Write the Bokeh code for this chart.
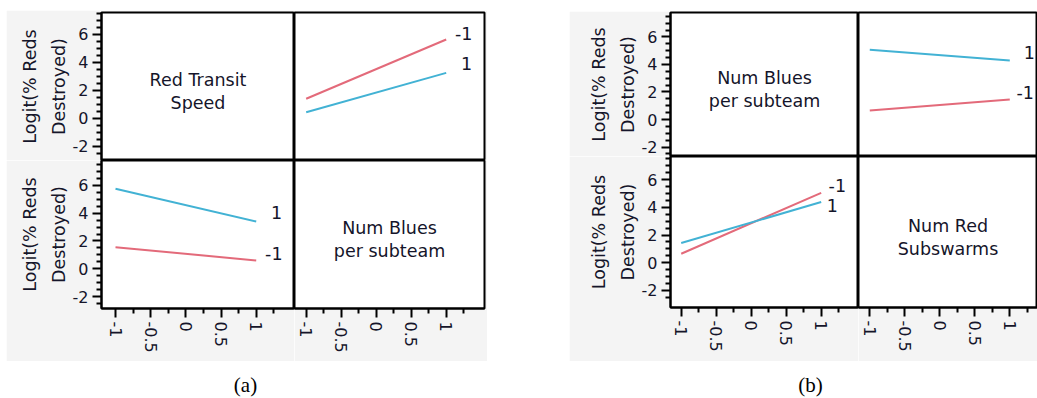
from bokeh.plotting import figure
from bokeh.layouts import row, column, Spacer
from bokeh.models import FixedTicker, Label, Range1d
from bokeh.core.properties import value
from bokeh.embed import file_html
from bokeh.resources import INLINE

# ---------------- data ----------------
x_levels = [-1, 1]
y_axis_title = "Logit(% Reds\nDestroyed)"
x_major = [-1, -0.5, 0, 0.5, 1]
x_major_text = ["-1", "-0.5", "0", "0.5", "1"]
x_minor = [-0.75, -0.25, 0.25, 0.75, 1.25]
y_major = [-2, 0, 2, 4, 6]
y_major_text = ["-2", "0", "2", "4", "6"]
y_minor = [-2.5, -1.5, -1, -0.5, 0.5, 1, 1.5, 2.5, 3, 3.5, 4.5, 5, 5.5, 6.5, 7, 7.5]

# panel (a)
a_diag = ["Red Transit\nSpeed", "Num Blues\nper subteam"]
a_tr_red = [1.41, 5.64]     # level -1
a_tr_blue = [0.45, 3.26]    # level 1
a_bl_red = [1.55, 0.60]
a_bl_blue = [5.76, 3.40]
# panel (b)
b_diag = ["Num Blues\nper subteam", "Num Red\nSubswarms"]
b_tr_red = [0.65, 1.45]
b_tr_blue = [5.07, 4.29]
b_bl_red = [0.65, 5.05]
b_bl_blue = [1.42, 4.38]

# line-end labels: (text, x, y)
a_tr_labels = (["-1", "1"], [1.25, 1.29], [6.07, 3.93])
a_bl_labels = (["1", "-1"], [1.29, 1.25], [4.07, 1.08])
b_tr_labels = (["1", "-1"], [1.28, 1.22], [4.89, 1.99])
b_bl_labels = (["-1", "1"], [1.23, 1.16], [5.58, 4.14])

captions = ["(a)", "(b)"]

# ---------------- style ----------------
GREY = "#f4f4f4"
RED = "#e36a7a"
BLUE = "#42b2d4"
TXT = "#15152a"
FONT = "DejaVu Sans"


def make_cell(fw, fh, xr, yr, left_axis, bottom_axis, bl, bt, br, bb):
    p = figure(frame_width=fw, frame_height=fh,
               x_range=Range1d(*xr), y_range=Range1d(*yr),
               x_axis_location="below" if bottom_axis else None,
               y_axis_location="left" if left_axis else None,
               output_backend="svg", toolbar_location=None,
               min_border_left=bl, min_border_right=br,
               min_border_top=bt, min_border_bottom=bb,
               background_fill_color="white", border_fill_color=GREY,
               outline_line_color="black", outline_line_width=2)
    p.xgrid.grid_line_color = None
    p.ygrid.grid_line_color = None
    if left_axis:
        ax = p.yaxis[0]
        ax.ticker = FixedTicker(ticks=y_major, minor_ticks=y_minor)
        ax.major_label_overrides = dict(zip(y_major, y_major_text))
        ax.axis_label = y_axis_title
        ax.axis_label_text_font = FONT
        ax.axis_label_text_font_size = "17.5px"
        ax.axis_label_text_font_style = "normal"
        ax.axis_label_text_color = TXT
        ax.axis_label_text_line_height = 1.45
        ax.axis_label_standoff = 1
    if bottom_axis:
        ax = p.xaxis[0]
        ax.ticker = FixedTicker(ticks=x_major, minor_ticks=x_minor)
        ax.major_label_overrides = dict(zip(x_major, x_major_text))
        ax.major_label_orientation = "vertical"
    for ax in list(p.xaxis) + list(p.yaxis):
        ax.axis_line_color = "black"
        ax.axis_line_width = 2
        ax.major_tick_out = 9
        ax.major_tick_in = 0
        ax.minor_tick_out = 5
        ax.minor_tick_in = 0
        ax.major_tick_line_color = "black"
        ax.major_tick_line_width = 2
        ax.minor_tick_line_color = "black"
        ax.minor_tick_line_width = 2
        ax.major_label_text_font = FONT
        ax.major_label_text_font_size = "16px"
        ax.major_label_text_color = TXT
        ax.major_label_standoff = 4
    return p


def add_lines(p, red, blue, labels):
    p.line(x_levels, red, line_color=RED, line_width=2)
    p.line(x_levels, blue, line_color=BLUE, line_width=2)
    txt, lx, ly = labels
    p.text(x=lx, y=ly, text=txt, text_align="center", text_baseline="middle",
           text_font=value(FONT), text_font_size=value("17.5px"), text_color=TXT)


def add_diag(p, name):
    xr, yr = p.x_range, p.y_range
    p.add_layout(Label(x=(xr.start + xr.end) / 2, y=(yr.start + yr.end) / 2,
                       text=name, text_align="center", text_baseline="middle",
                       y_offset=-5, text_font=FONT, text_font_size="17.5px",
                       text_color=TXT, text_line_height=1.15))


# ---------------- panel (a) ----------------
a_xl = (-1.199, 1.544)
a_xr = (-1.167, 1.547)
a_yt = (-3.0, 7.57)
a_yb = (-2.86, 7.79)

a_TL = make_cell(193, 148, a_xl, a_yt, True, False, 95, 2, 0, 0)
a_TR = make_cell(190, 148, a_xr, a_yt, False, False, 0, 2, 3, 0)
a_BL = make_cell(193, 148, a_xl, a_yb, True, True, 95, 0, 0, 53)
a_BR = make_cell(190, 148, a_xr, a_yb, False, True, 0, 0, 3, 53)
add_diag(a_TL, a_diag[0])
add_diag(a_BR, a_diag[1])
add_lines(a_TR, a_tr_red, a_tr_blue, a_tr_labels)
add_lines(a_BL, a_bl_red, a_bl_blue, a_bl_labels)

# ---------------- panel (b) ----------------
b_xl = (-1.153, 1.533)
b_xr = (-1.161, 1.396)
b_yt = (-2.69, 7.78)
b_yb = (-3.23, 7.67)

b_TL = make_cell(188, 144, b_xl, b_yt, True, False, 101, 1, 0, 0)
b_TR = make_cell(179, 144, b_xr, b_yt, False, False, 0, 1, 0, 0)
b_BL = make_cell(188, 151, b_xl, b_yb, True, True, 101, 0, 0, 54)
b_BR = make_cell(179, 151, b_xr, b_yb, False, True, 0, 0, 0, 54)
add_diag(b_TL, b_diag[0])
add_diag(b_BR, b_diag[1])
add_lines(b_TR, b_tr_red, b_tr_blue, b_tr_labels)
add_lines(b_BL, b_bl_red, b_bl_blue, b_bl_labels)

panelA = column(Spacer(width=481, height=10), row(a_TL, a_TR), row(a_BL, a_BR))
panelB = column(Spacer(width=468, height=11), row(b_TL, b_TR), row(b_BL, b_BR))

cap = figure(width=1037, height=37, x_range=Range1d(0, 1), y_range=Range1d(0, 1),
             x_axis_location=None, y_axis_location=None,
             output_backend="svg", toolbar_location=None, min_border=0,
             outline_line_color=None, background_fill_color="white",
             border_fill_color="white")
cap.xgrid.grid_line_color = None
cap.ygrid.grid_line_color = None
for txt, cx in zip(captions, [245, 810]):
    cap.add_layout(Label(x=cx, y=14, x_units="screen", y_units="screen", text=txt,
                         text_align="center", text_baseline="middle",
                         text_font="Liberation Serif", text_font_size="21px",
                         text_color="black"))

layout = column(row(Spacer(width=6, height=361), panelA,
                    Spacer(width=82, height=361), panelB), cap)

open("out.html", "w").write(file_html(layout, INLINE))
